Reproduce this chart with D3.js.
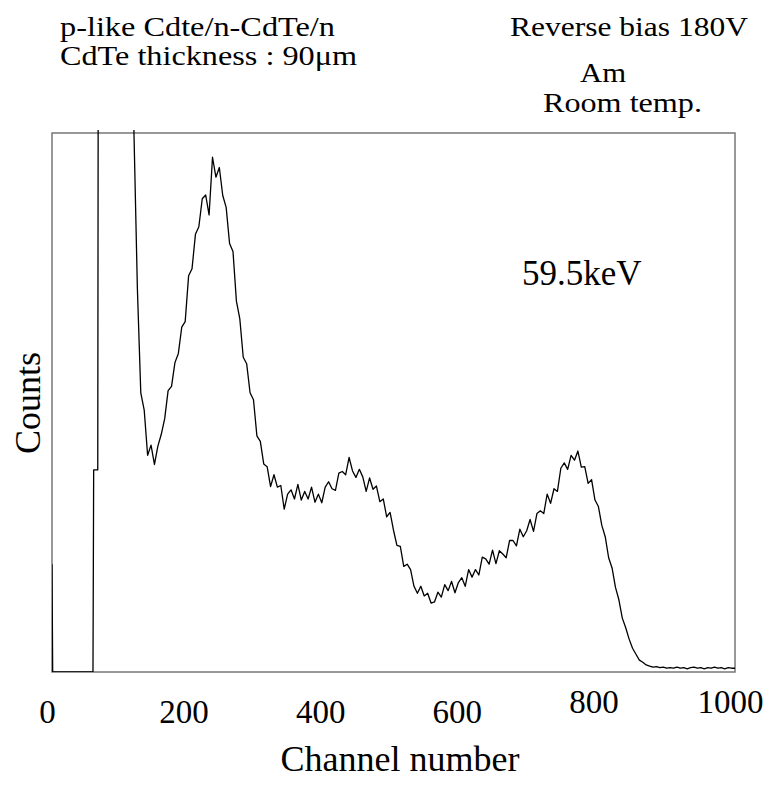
<!DOCTYPE html>
<html>
<head>
<meta charset="utf-8">
<script src="https://cdn.jsdelivr.net/npm/d3@7"></script>
<style>
    body { margin: 0; background: #fff; }
    text { font-family: 'Liberation Serif', 'Times New Roman', serif; fill: #000; }
</style>
</head>
<body>
<div id="chart"></div>
<script>
// Lead-in of the spectrum (noise spike, empty channels, overflow region)
const leadChannels = [0, 1, 60, 61, 67, 68, 116];
const leadCounts = [200, 0, 0, 375, 375, 1500, 1500];

// Main spectrum, one value every 5 channels from channel 120
const specStart = 120;
const specStep = 5;
const specCounts = [
    // 120 - 300
    1000, 712, 518, 486, 402, 421, 385, 419, 441, 470,
    522, 530, 574, 591, 640, 650, 735, 748, 812, 826,
    878, 885, 848, 955, 918, 936, 884, 862, 795, 780,
    688, 655, 584, 572, 518, 505, 438,
    // 305 - 560
    428, 386, 381, 344, 366, 343, 346, 302, 330, 338,
    321, 348, 319, 335, 321, 343, 315, 330, 314, 343,
    353, 340, 337, 369, 372, 366, 398, 373, 361, 376,
    362, 335, 360, 339, 345, 316, 321, 288, 296, 263,
    235, 233, 196, 200, 190, 159, 146, 159, 141, 146,
    128, 130,
    // 565 - 850
    148, 139, 162, 151, 168, 147, 166, 175, 159, 190,
    176, 190, 180, 213, 210, 200, 226, 201, 225, 219,
    212, 244, 244, 234, 265, 251, 262, 283, 261, 294,
    299, 294, 330, 313, 340, 335, 378, 388, 376, 402,
    393, 410, 380, 381, 350, 357, 319, 307, 272, 251,
    212, 193, 157, 134, 100, 82, 61, 44,
    // 855 - 1000
    33, 22, 18, 13, 11, 9, 10, 8, 9, 7,
    8, 7, 9, 7, 8, 6, 8, 9, 7, 8,
    6, 8, 7, 9, 7, 8, 6, 8, 7, 7
];

const xTickValues = [0, 200, 400, 600, 800, 1000];

const headerLeft = ['p-like Cdte/n-CdTe/n', 'CdTe thickness : 90\u03bcm'];
const headerRight = ['Reverse bias 180V', 'Am', 'Room temp.'];
const peakLabel = '59.5keV';

const spectrum = [];
for (let i = 0; i < leadChannels.length; i++) {
    spectrum.push({ch: leadChannels[i], n: leadCounts[i]});
}
for (let i = 0; i < specCounts.length; i++) {
    spectrum.push({ch: specStart + i * specStep, n: specCounts[i]});
}

const width = 768;
const height = 786;
const plot = {left: 52, right: 735, top: 133, bottom: 672};

const svg = d3.select('#chart').append('svg')
    .attr('width', width)
    .attr('height', height);

const x = d3.scaleLinear()
    .domain([0, 1000])
    .range([plot.left, plot.right]);
const y = d3.scaleLinear()
    .domain([0, 1000])
    .range([plot.bottom, plot.top]);

svg.append('clipPath')
    .attr('id', 'plot-clip')
  .append('rect')
    .attr('x', plot.left)
    .attr('y', plot.top - 3)
    .attr('width', plot.right - plot.left)
    .attr('height', plot.bottom - plot.top + 3);

// frame
svg.append('rect')
    .attr('x', plot.left)
    .attr('y', plot.top)
    .attr('width', plot.right - plot.left)
    .attr('height', plot.bottom - plot.top)
    .attr('fill', 'none')
    .attr('stroke', '#777')
    .attr('stroke-width', 1.5);

const line = d3.line()
    .x((d) => { return x(d.ch) })
    .y((d) => { return y(d.n) });

svg.append('path')
    .datum(spectrum)
    .attr('clip-path', 'url(#plot-clip)')
    .attr('d', line)
    .attr('fill', 'none')
    .attr('stroke', '#000')
    .attr('stroke-width', 1.3)
    .attr('stroke-linejoin', 'round');

// x axis labels only (no tick marks in the original)
const xAxis = svg.append('g')
    .attr('class', 'axis axis--x')
    .attr('transform', 'translate(0,' + plot.bottom + ')')
    .call(d3.axisBottom(x).tickValues(xTickValues).tickSize(0).tickFormat(d3.format('d')));
xAxis.select('.domain').remove();
xAxis.selectAll('text')
    .attr('x', -5)
    .attr('y', (d) => { return d >= 800 ? 41 : 51 })
    .attr('dy', 0)
    .style('font-family', "'Liberation Serif', 'Times New Roman', serif")
    .style('font-size', '33px')
    .attr('fill', '#000');

svg.append('text')
    .attr('x', 400)
    .attr('y', 771)
    .attr('text-anchor', 'middle')
    .style('font-size', '36px')
    .text('Channel number');

svg.append('text')
    .attr('transform', 'translate(40,403) rotate(-90)')
    .attr('text-anchor', 'middle')
    .style('font-size', '36px')
    .text('Counts');

// header texts, stretched a little to the widths of the original lettering
svg.append('text')
    .attr('x', 60).attr('y', 36)
    .attr('textLength', 275).attr('lengthAdjust', 'spacingAndGlyphs')
    .style('font-size', '28px')
    .text(headerLeft[0]);

svg.append('text')
    .attr('x', 60).attr('y', 65)
    .attr('textLength', 297).attr('lengthAdjust', 'spacingAndGlyphs')
    .style('font-size', '28px')
    .text(headerLeft[1]);

svg.append('text')
    .attr('x', 510).attr('y', 36)
    .attr('textLength', 238).attr('lengthAdjust', 'spacingAndGlyphs')
    .style('font-size', '28px')
    .text(headerRight[0]);

svg.append('text')
    .attr('x', 580).attr('y', 82)
    .attr('textLength', 46).attr('lengthAdjust', 'spacingAndGlyphs')
    .style('font-size', '28px')
    .text(headerRight[1]);

svg.append('text')
    .attr('x', 543).attr('y', 112)
    .attr('textLength', 159).attr('lengthAdjust', 'spacingAndGlyphs')
    .style('font-size', '28px')
    .text(headerRight[2]);

svg.append('text')
    .attr('x', 522)
    .attr('y', 285)
    .style('font-size', '35px')
    .text(peakLabel);
</script>
</body>
</html>
